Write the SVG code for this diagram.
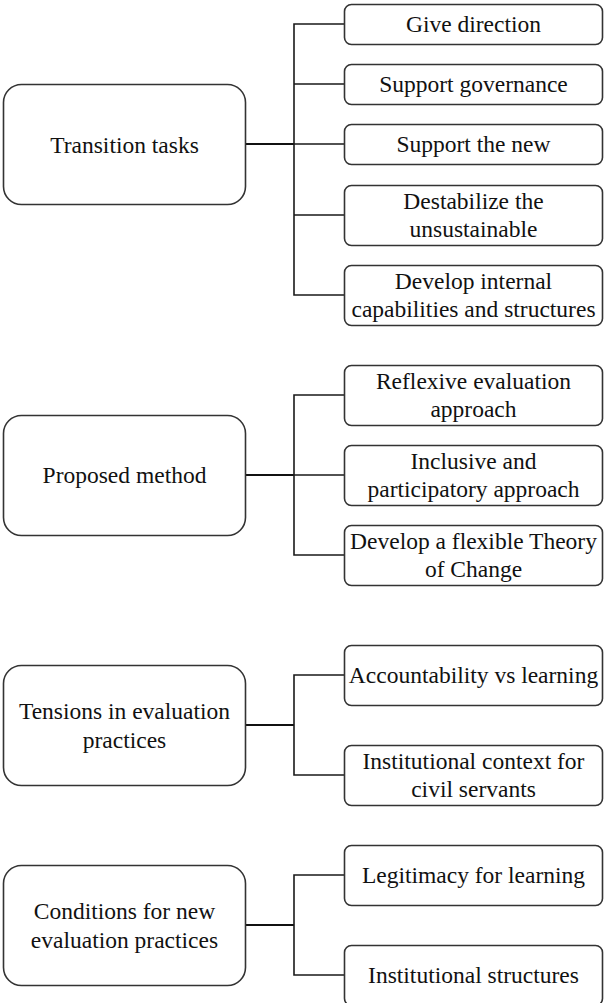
<svg xmlns="http://www.w3.org/2000/svg" width="604" height="1003" viewBox="0 0 604 1003">
  <style>
    .parent { fill: #ffffff; stroke: #333333; stroke-width: 1.6; }
    .child { fill: #ffffff; stroke: #333333; stroke-width: 1.6; }
    .lbl { font-size: 23.5px; fill: #111111; text-anchor: middle; }
    .wire { fill: none; stroke: #1a1a1a; stroke-width: 1.6; }
    .stem { fill: none; stroke: #111111; stroke-width: 2.2; }
  </style>
  <rect width="604" height="1003" fill="#ffffff"/>

  <g id="connectors">
    <!-- Transition tasks -->
    <line class="stem" x1="245" y1="144" x2="294" y2="144"/>
    <path class="wire" d="M344 24 H294 V295 H344 M294 84 H344 M294 144 H344 M294 215 H344"/>
    <!-- Proposed method -->
    <line class="stem" x1="245" y1="475" x2="294" y2="475"/>
    <path class="wire" d="M344 395 H294 V555 H344 M294 475 H344"/>
    <!-- Tensions in evaluation practices -->
    <line class="stem" x1="245" y1="725" x2="294" y2="725"/>
    <path class="wire" d="M344 675 H294 V775 H344"/>
    <!-- Conditions for new evaluation practices -->
    <line class="stem" x1="245" y1="925" x2="294" y2="925"/>
    <path class="wire" d="M344 875 H294 V975 H344"/>
  </g>

  <g font-family="Liberation Serif, DejaVu Serif, serif">
  <!-- Group 1 -->
  <g id="transition-tasks">
    <rect class="parent" x="3.5" y="84.5" width="242" height="120" rx="18"/>
    <text class="lbl" x="124.5" y="152.5">Transition tasks</text>
  </g>
  <g id="give-direction">
    <rect class="child" x="344.5" y="4.5" width="258" height="40" rx="7"/>
    <text class="lbl" x="473.5" y="32">Give direction</text>
  </g>
  <g id="support-governance">
    <rect class="child" x="344.5" y="64.5" width="258" height="40" rx="7"/>
    <text class="lbl" x="473.5" y="92">Support governance</text>
  </g>
  <g id="support-the-new">
    <rect class="child" x="344.5" y="124.5" width="258" height="40" rx="7"/>
    <text class="lbl" x="473.5" y="152">Support the new</text>
  </g>
  <g id="destabilize">
    <rect class="child" x="344.5" y="185.5" width="258" height="60" rx="7"/>
    <text class="lbl" x="473.5" y="208.5">Destabilize the</text>
    <text class="lbl" x="473.5" y="237">unsustainable</text>
  </g>
  <g id="develop-internal">
    <rect class="child" x="344.5" y="265.5" width="258" height="60" rx="7"/>
    <text class="lbl" x="473.5" y="288.5">Develop internal</text>
    <text class="lbl" x="473.5" y="317">capabilities and structures</text>
  </g>

  <!-- Group 2 -->
  <g id="proposed-method">
    <rect class="parent" x="3.5" y="415.5" width="242" height="120" rx="18"/>
    <text class="lbl" x="124.5" y="483">Proposed method</text>
  </g>
  <g id="reflexive-evaluation">
    <rect class="child" x="344.5" y="365.5" width="258" height="60" rx="7"/>
    <text class="lbl" x="473.5" y="388.5">Reflexive evaluation</text>
    <text class="lbl" x="473.5" y="417">approach</text>
  </g>
  <g id="inclusive-participatory">
    <rect class="child" x="344.5" y="445.5" width="258" height="60" rx="7"/>
    <text class="lbl" x="473.5" y="468.5">Inclusive and</text>
    <text class="lbl" x="473.5" y="497">participatory approach</text>
  </g>
  <g id="theory-of-change">
    <rect class="child" x="344.5" y="525.5" width="258" height="60" rx="7"/>
    <text class="lbl" x="473.5" y="548.5">Develop a flexible Theory</text>
    <text class="lbl" x="473.5" y="577">of Change</text>
  </g>

  <!-- Group 3 -->
  <g id="tensions">
    <rect class="parent" x="3.5" y="665.5" width="242" height="120" rx="18"/>
    <text class="lbl" x="124.5" y="719">Tensions in evaluation</text>
    <text class="lbl" x="124.5" y="747.5">practices</text>
  </g>
  <g id="accountability-learning">
    <rect class="child" x="344.5" y="645.5" width="258" height="60" rx="7"/>
    <text class="lbl" x="473.5" y="683">Accountability vs learning</text>
  </g>
  <g id="institutional-context">
    <rect class="child" x="344.5" y="745.5" width="258" height="60" rx="7"/>
    <text class="lbl" x="473.5" y="768.5">Institutional context for</text>
    <text class="lbl" x="473.5" y="797">civil servants</text>
  </g>

  <!-- Group 4 -->
  <g id="conditions">
    <rect class="parent" x="3.5" y="865.5" width="242" height="120" rx="18"/>
    <text class="lbl" x="124.5" y="919">Conditions for new</text>
    <text class="lbl" x="124.5" y="947.5">evaluation practices</text>
  </g>
  <g id="legitimacy-learning">
    <rect class="child" x="344.5" y="845.5" width="258" height="60" rx="7"/>
    <text class="lbl" x="473.5" y="883">Legitimacy for learning</text>
  </g>
  <g id="institutional-structures">
    <rect class="child" x="344.5" y="945.5" width="258" height="60" rx="7"/>
    <text class="lbl" x="473.5" y="983">Institutional structures</text>
  </g>
  </g>
</svg>
